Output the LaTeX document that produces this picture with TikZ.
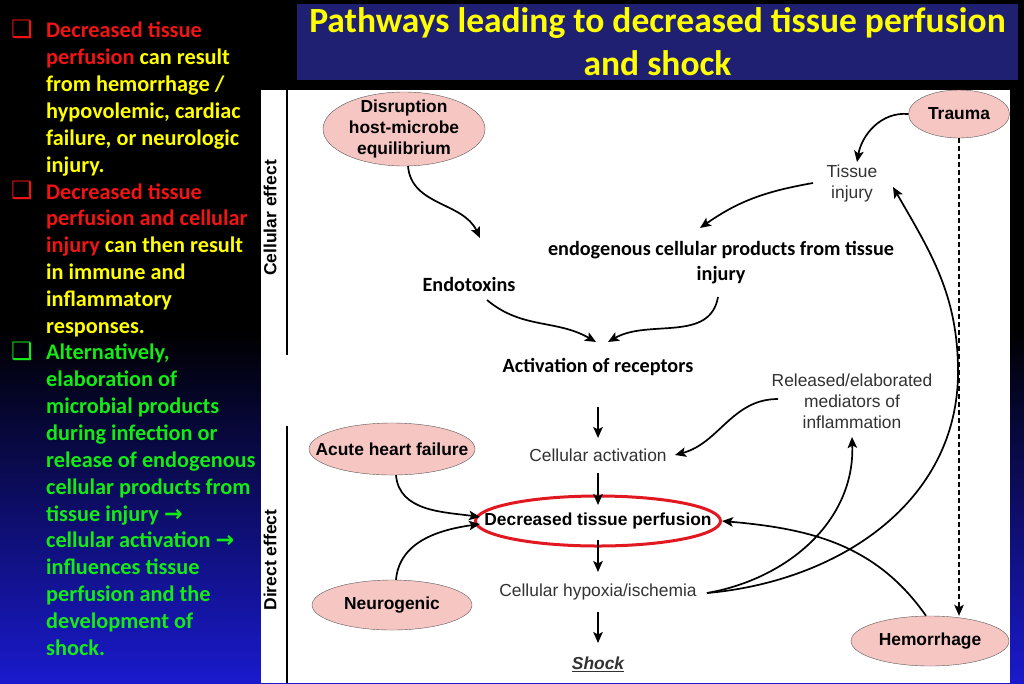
\documentclass[tikz,border=0pt]{standalone}
\usepackage{fontspec}
\setmainfont{Carlito}
\newfontfamily\arial{Liberation Sans}
\newfontfamily\dejavu{DejaVu Sans}
\definecolor{titlebox}{RGB}{32, 32, 114}
\definecolor{slideblue}{RGB}{26, 26, 205}
\definecolor{causefill}{RGB}{246, 198, 195}
\definecolor{ringred}{RGB}{226, 24, 32}
\definecolor{notered}{RGB}{240, 20, 20}
\definecolor{noteyellow}{RGB}{255, 255, 0}
\definecolor{notegreen}{RGB}{20, 235, 20}
\definecolor{stagetext}{RGB}{50, 50, 50}
\usetikzlibrary{positioning, shapes.geometric, arrows.meta}

\begin{document}
\begin{tikzpicture}[x=1pt, y=1pt,
		cause/.style={ellipse, draw=black!65, fill=causefill, inner sep=-60pt, font=\arial\bfseries\fontsize{17.4}{21}\selectfont, align=center},
		stage/.style={font=\arial\fontsize{17.4}{21}\selectfont, text=stagetext, align=center},
		keytext/.style={font=\bfseries\fontsize{20.2}{25}\selectfont, align=center},
		effect/.style={rotate=90, font=\arial\bfseries\fontsize{17.5}{18}\selectfont},
		notes/.style={anchor=north west, inner sep=0pt, align=left, font=\bfseries\fontsize{22.3}{26.87}\selectfont},
		checkbox/.style={font=\dejavu\fontsize{24}{24}\selectfont},
		flow/.style={line width=1.7pt, -{Stealth[length=11pt, width=9.5pt, inset=2.5pt]}}
		]
		
		\useasboundingbox (0,0) rectangle (1024,-683);
		\fill[black] (0,0) rectangle (1024,-683);
		\shade[top color=black, bottom color=slideblue] (0,-330) rectangle (1024,-683);
		\fill[white] (261,-90) rectangle (1010,-683);
		
		\node[fill=titlebox, minimum width=721pt, minimum height=76pt, text=noteyellow, font=\bfseries\fontsize{35.5}{43}\selectfont, align=center] (title) at (657.5,-42) {Pathways leading to decreased tissue perfusion\\and shock};
		
		\foreach \y/\c [count=\i] in {29/notered, 190/notered, 351/notegreen}{
			\node[checkbox, text=\c] (box\i) at (22,-\y) {❑};
		}
		\node[notes, text=noteyellow] (causes) at (46,-22) {\textcolor{notered}{Decreased tissue}\\
			\textcolor{notered}{perfusion} can result\\
			from hemorrhage /\\
			hypovolemic, cardiac\\
			failure, or neurologic\\
			injury.\\
			\textcolor{notered}{Decreased tissue}\\
			\textcolor{notered}{perfusion and cellular}\\
			\textcolor{notered}{injury} can then result\\
			in immune and\\
			inflammatory\\
			responses.};
		\node[notes, text=notegreen] (alt) at (46,-344) {Alternatively,\\
			elaboration of\\
			microbial products\\
			during infection or\\
			release of endogenous\\
			cellular products from\\
			tissue injury {\dejavu\bfseries →}\\
			cellular activation {\dejavu\bfseries →}\\
			influences tissue\\
			perfusion and the\\
			development of\\
			shock.};
		
		\node[effect] (cellfx) at (270,-218) {Cellular effect};
		\node[effect] (directfx) at (270,-560) {Direct effect};
		\draw[line width=2pt] (287,-90) -- (287,-355);
		\draw[line width=2pt] (287,-426) -- (287,-683);
		
		\node[cause, minimum width=162pt, minimum height=74pt] (disrupt) at (404,-129) {Disruption\\host-microbe\\equilibrium};
		\node[cause, minimum width=101pt, minimum height=48pt] (trauma) at (959,-114) {Trauma};
		\node[stage] (tinj) at (852,-183) {Tissue\\injury};
		\node[keytext] (endog) at (721,-263) {endogenous cellular products from tissue\\injury};
		\node[keytext] (endo) at (469,-284) {Endotoxins};
		\node[keytext] (act) at (598,-367) {Activation of receptors};
		\node[stage] (cellact) at (598,-455) {Cellular activation};
		\node[stage] (rel) at (852,-401) {Released/elaborated\\mediators of\\inflammation};
		\node[cause, minimum width=166pt, minimum height=52pt] (ahf) at (392,-449) {Acute heart failure};
		\node[ellipse, draw=ringred, line width=3pt, inner sep=-60pt, minimum width=245pt, minimum height=50pt, font=\arial\bfseries\fontsize{17.4}{21}\selectfont] (dec) at (598,-521) {Decreased tissue perfusion};
		\node[stage] (hyp) at (598,-592) {Cellular hypoxia/ischemia};
		\node[cause, minimum width=160pt, minimum height=50pt] (neuro) at (392,-605) {Neurogenic};
		\node[stage, font=\arial\bfseries\itshape\fontsize{17.4}{21}\selectfont] (shock) at (598,-664) {\underline{Shock}};
		\node[cause, minimum width=158pt, minimum height=50pt] (hem) at (930,-641) {Hemorrhage};
		
		\draw[flow] ([xshift=4pt]disrupt.south) to[out=-85, in=115] ([shift={(11pt,46pt)}]endo.center);
		\draw[flow] ([shift={(18pt,-16pt)}]endo.center) to[out=-40, in=150] ([shift={(-2pt,25pt)}]act.center);
		\draw[flow] ([shift={(-3pt,-34pt)}]endog.center) to[out=-100, in=30] ([shift={(10pt,25pt)}]act.center);
		\draw[flow] ([xshift=-39pt]tinj.center) to[out=190, in=35] ([shift={(-21pt,35pt)}]endog.center);
		\draw[flow] (trauma.west) to[out=175, in=80] ([shift={(5pt,21pt)}]tinj.center);
		\draw[flow, line width=1.5pt, dash pattern=on 5pt off 3pt] (trauma.south) -- (trauma.south |- hem.north);
		
		\foreach \a/\b/\s/\e in {act/cellact/40/17, cellact/dec/18/16, dec/hyp/19/20, hyp/shock/20/21}{
			\draw[flow] ([yshift=-\s]\a.center) -- ([yshift=\e]\b.center);
		}
		
		\draw[flow] ([xshift=4pt]ahf.south) to[out=-85, in=172] ([shift={(-118pt,4pt)}]dec.center);
		\draw[flow] ([xshift=4pt]neuro.north) to[out=85, in=188] ([shift={(-118pt,-3pt)}]dec.center);
		\draw[flow] ([xshift=-4pt]hem.north) to[out=125, in=-5] ([xshift=124pt]dec.center);
		\draw[flow] ([shift={(-74pt,2pt)}]rel.center) to[out=180, in=15] ([xshift=77pt]cellact.center);
		\draw[flow] ([shift={(109pt,-1pt)}]hyp.center) to[out=10, in=-88] ([yshift=-36pt]rel.center);
		\coordinate (swing) at (958,-372);
		\draw[flow] ([shift={(109pt,-1pt)}]hyp.center) to[out=5, in=-90] (swing) to[out=90, in=-60] ([shift={(41pt,-4pt)}]tinj.center);
		
	\end{tikzpicture}
\end{document}
